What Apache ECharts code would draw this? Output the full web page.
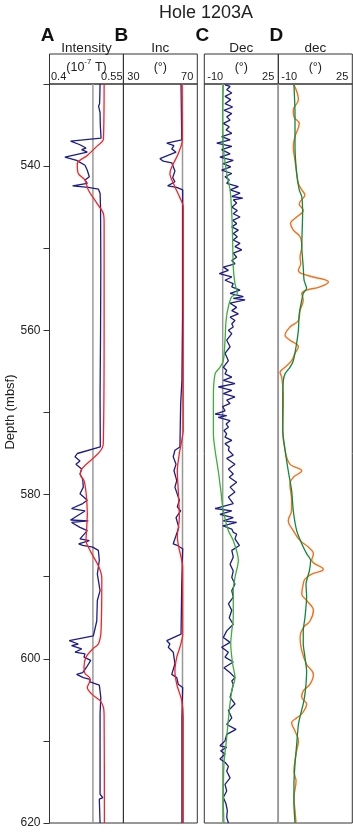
<!DOCTYPE html>
<html>
<head>
<meta charset="utf-8">
<script src="https://cdn.jsdelivr.net/npm/echarts@6/dist/echarts.min.js"></script>
<style>
html,body{margin:0;padding:0;background:#fff;}
#chart{width:353px;height:834px;}
</style>
</head>
<body>
<div id="chart"></div>
<script>
// depth range (mbsf)
const depthMin = 530, depthMax = 620;
const depthLabels = [540, 560, 580, 600, 620];

// x scales of the four panels
const panelNames = ['A', 'B', 'C', 'D'];
const xMin = [0.4, 30, -10, -10];
const xMax = [0.55, 70, 25, 25];
const xStep = [0.05, 10, 5, 5];
const xTickLabels = [['0.4', '0.55'], ['30', '70'], ['-10', '25'], ['-10', '25']];
const refValues = [0.488, 62, -1.3, -10];

// [depth, value]
const intRaw = [[530,0.5025],[531.5,0.502],[532.4,0.5015],[532.7,0.4995],[533.1,0.501],[533.5,0.5025],[535,0.503],[536.6,0.5045],
  [536.95,0.4428],[537.4,0.4618],[537.8,0.474],[538.0,0.4652],[538.3,0.4766],[538.9,0.4312],[539.3,0.455],[539.9,0.472],
  [540.5,0.4766],[541.3,0.4807],[541.7,0.472],[542.1,0.4766],[542.4,0.4469],[542.6,0.4787],[542.8,0.499],[543.3,0.5025],
  [545,0.5035],[552,0.504],[560,0.5035],[568,0.5025],[574.2,0.503],[574.4,0.5025],[575.0,0.4563],[575.4,0.4516],[575.9,0.4618],
  [576.3,0.4536],[576.9,0.4652],[577.5,0.4618],[578.1,0.4673],[578.3,0.4652],[579.1,0.4685],[579.9,0.4618],[580.7,0.4766],
  [581.1,0.4673],[581.7,0.4448],[582.0,0.472],[583.1,0.4428],[583.2,0.4787],[583.4,0.4448],[584.0,0.4618],[584.4,0.4766],
  [585.4,0.4618],[585.6,0.4807],[586.0,0.4591],[586.2,0.4673],[586.4,0.4876],[586.8,0.499],[588.0,0.501],[589.7,0.497],
  [591.7,0.5025],[592.9,0.497],[595.4,0.4958],[597.2,0.4889],[597.8,0.44],[598.2,0.4583],[598.4,0.4448],[598.8,0.4652],
  [599.2,0.4516],[599.4,0.472],[599.8,0.4699],[600.2,0.4836],[601.0,0.4754],[601.7,0.4673],[601.9,0.455],[602.3,0.4685],
  [602.5,0.4821],[602.8,0.4821],[603.2,0.501],[604.7,0.504],[606.7,0.5025],[616.5,0.5025],[616.9,0.508],[617.1,0.501],[620,0.5025]];
const intSmooth = [[530,0.5107],[536.7,0.5093],[537.6,0.4958],[538.7,0.4766],[539.7,0.4563],[540.9,0.4583],[541.7,0.472],
  [542.9,0.4787],[544.5,0.4958],[545.8,0.5093],[547,0.5107],[560,0.5107],[573.8,0.509],[576.9,0.4652],[577.6,0.4625],
  [578.3,0.47],[580,0.4745],[582.3,0.4766],[584,0.4755],[585.6,0.474],[586.8,0.4821],[588.8,0.5],[590.2,0.506],[596.6,0.5045],
  [598.2,0.499],[598.8,0.4876],[599.8,0.474],[601.0,0.4699],[601.8,0.472],[602.4,0.4821],[602.9,0.4807],[603.5,0.4766],
  [604.3,0.4855],[605.1,0.5025],[605.9,0.5093],[607,0.5107],[620,0.5113]];

const incRaw = [[530,61.2],[536.8,61.6],[537.2,53.5],[537.5,57.4],[537.9,56.2],[538.3,58.5],[539.1,49.8],[539.4,51.6],
  [539.6,56.2],[540.6,57.9],[541.4,56.7],[541.9,57.9],[542.4,54.0],[542.6,58.9],[542.9,62.1],[545.8,62.1],[557.9,62.1],
  [566.1,61.7],[568.9,61],[574.2,60.6],[574.6,57.9],[575.4,57.0],[576.3,58.5],[577.1,57.4],[578.3,58.9],[579.1,57.9],
  [580.7,60.3],[581.5,59.2],[582.0,61.0],[582.8,58.5],[584.0,60.0],[586.0,57.0],[586.2,59.2],[586.6,62.1],[590.9,61.6],
  [597.0,61.2],[597.8,53.5],[598.2,55.2],[598.6,54.3],[599.2,57.0],[600.6,57.9],[601.9,56.2],[602.3,58.9],[603.1,59.7],
  [603.5,62.1],[607.1,61.7],[620,61.7]];
const incSmooth = [[530,61.7],[536.8,61.9],[538.5,59.7],[540.1,56.2],[540.9,55.2],[542.5,57.9],[543.7,60.3],[545.0,62.4],
  [572.2,62.4],[573.4,61.6],[575.0,60.3],[577.1,59.2],[579.5,59.7],[582.8,60.3],[585.2,59.2],[586.4,60.0],[588.9,62.1],
  [597,62.1],[598.6,60.6],[599.8,58.9],[601.5,57.9],[603.1,58.9],[605.1,61.6],[607.1,62.4],[620,62.4]];

const decRaw = [[530.1,-0.2],[530.3,2.2],[530.7,0.6],[531.1,3.0],[531.5,-0.2],[531.9,2.5],[532.4,-0.2],[532.8,3.4],[533.2,-0.7],
  [533.6,3.0],[534.0,0.6],[534.4,2.2],[534.8,-1.0],[535.2,1.8],[535.6,0.3],[536.0,3.0],[536.4,-1.8],[536.8,2.2],[537.2,-4.1],
  [537.6,3.0],[538.0,-1.8],[538.5,2.2],[538.9,-2.6],[539.3,3.7],[539.7,-1.0],[540.1,2.5],[540.5,-1.8],[540.9,3.0],[541.3,-0.2],
  [541.7,1.8],[542.1,0.6],[542.5,6.1],[542.9,2.2],[543.3,6.9],[543.7,3.0],[543.9,8.2],[544.1,3.7],[544.5,5.3],[545.0,3.0],
  [545.4,5.6],[545.8,3.7],[546.2,6.9],[546.6,3.4],[547.0,5.3],[547.4,3.0],[547.8,6.1],[548.2,3.7],[548.6,5.6],[549.0,3.7],
  [549.4,6.9],[549.8,4.5],[550.2,7.7],[550.6,3.7],[551.1,5.3],[551.5,3.0],[551.9,4.5],[552.3,-1.0],[552.7,1.4],[553.1,-2.9],
  [553.5,3.0],[553.9,-0.2],[554.3,3.7],[554.7,3.0],[555.1,6.9],[555.5,2.2],[555.9,8.5],[556.1,3.7],[556.3,9.3],[556.7,2.2],
  [557.2,5.3],[557.6,3.0],[558.0,6.1],[558.4,2.2],[558.8,4.5],[559.2,3.0],[559.6,3.7],[560.0,1.4],[560.4,3.0],[561.2,0.6],
  [562.0,2.2],[562.8,-0.2],[563.7,1.4],[564.5,-1.0],[564.9,0.6],[565.3,-0.2],[565.7,3.0],[566.1,-1.0],[566.5,4.5],[566.9,-3.4],
  [567.3,3.0],[567.7,-1.0],[568.1,4.5],[568.5,0.6],[568.9,2.2],[569.3,-1.3],[569.8,-0.2],[570.2,-4.9],[570.4,0.6],[570.6,-3.4],
  [571.0,2.2],[571.4,0.3],[571.8,1.4],[572.2,-0.7],[572.6,0.6],[573.0,-0.2],[573.4,3.0],[573.8,-0.2],[574.2,1.8],[574.6,1.4],
  [575.2,3.7],[575.6,0.6],[576.3,4.5],[576.9,1.4],[577.5,3.7],[577.9,1.8],[578.5,5.3],[579.1,2.2],[579.7,4.5],[580.3,1.4],
  [581.1,3.7],[581.7,-4.9],[582.0,3.0],[582.4,-2.6],[582.8,3.7],[583.2,-1.0],[583.4,5.3],[583.8,-1.3],[584.2,3.0],[584.6,3.7],
  [584.8,5.3],[585.4,4.5],[586.2,6.6],[586.8,3.0],[587.6,3.7],[588.5,2.2],[589.3,3.7],[590.1,3.0],[590.9,4.5],[591.7,3.0],
  [592.5,3.7],[593.3,1.4],[594.1,3.0],[595.0,1.8],[595.8,3.7],[596.6,0.6],[597.4,-1.0],[598.0,2.2],[598.6,-1.8],[599.2,1.4],
  [599.8,-0.2],[600.4,3.7],[601.1,-0.7],[601.7,2.2],[602.3,4.5],[602.7,3.0],[603.1,3.7],[603.9,3.0],[604.7,2.2],[605.5,4.5],
  [606.3,1.4],[607.2,3.0],[608.0,0.6],[608.6,5.0],[609.2,0.6],[610.0,-0.2],[610.6,-2.6],[610.8,0.6],[611.2,-2.3],[611.6,-0.2],
  [612.2,-2.6],[612.6,-0.2],[613.1,1.4],[613.7,0.6],[614.5,2.2],[615.3,-0.2],[616.1,0.6],[616.9,-1.0],[617.7,0.3],[618.5,0.9],
  [619.3,0.6],[620.0,1.4]];
const decSmoothC = [[530.1,-1.0],[533.6,-1.3],[537.6,-1.0],[540.9,0.6],[542.9,2.2],[545.8,3.0],[549.0,3.4],[552.3,3.7],
  [554.3,4.5],[555.5,5.6],[555.9,3.0],[557.1,1.4],[558.8,0.3],[561.2,-0.2],[563.7,-1.0],[564.5,-2.6],[565.3,-4.9],[568.1,-5.7],
  [572.6,-5.7],[574.6,-4.9],[577.1,-3.4],[579.5,-2.2],[582.0,-1.0],[584.4,1.4],[585.6,3.7],[588.0,6.1],[590.1,4.5],[591.7,3.7],
  [595.0,3.7],[596.6,3.0],[598.2,2.5],[600.6,3.4],[602.3,4.5],[603.9,3.0],[606.3,1.8],[609.6,0.6],[612.8,-0.7],[617.3,-1.0],[620,-0.7]];

const decD = [[530.1,-2.6],[531.9,-0.5],[533.2,-2.9],[534.0,-2.6],[534.8,-0.1],[536.4,-2.1],[537.6,-2.9],[539.3,-2.1],
  [540.9,-1.3],[542.1,-0.5],[542.9,1.1],[543.5,2.6],[544.6,-0.1],[545.4,1.8],[546.2,-1.3],[547.0,-4.2],[547.8,-2.9],[548.6,0.3],
  [549.8,1.1],[551.1,0.3],[551.9,0.6],[552.7,-0.5],[553.1,1.1],[553.5,6.6],[554.1,13.7],[554.7,9.7],[555.1,3.4],[555.5,1.1],
  [556.3,1.8],[557.6,0.3],[558.8,-0.5],[559.6,-4.5],[560.6,-6.8],[561.2,-4.5],[562.0,-0.5],[562.8,-2.1],[563.7,-3.7],[564.5,-6.8],
  [565.1,-9.2],[565.7,-8.4],[568.1,-7.6],[572.2,-7.9],[574.6,-6.8],[576.3,-4.5],[577.1,1.1],[577.9,-2.9],[578.7,-4.5],
  [580.7,-3.7],[581.9,-3.7],[583.2,-5.3],[584.4,-2.9],[585.6,0.3],[586.4,4.2],[587.2,6.6],[588.0,5.8],[589.1,11.3],[589.7,5.8],
  [590.3,2.6],[590.9,1.8],[592.1,1.1],[592.9,3.4],[594.1,6.6],[595.4,5.0],[596.2,1.8],[597.4,0.3],[599.0,1.1],[600.7,3.4],
  [601.9,6.6],[603.1,5.0],[603.9,1.8],[604.7,1.1],[605.5,3.4],[606.7,1.1],[607.2,-1.3],[607.8,-3.7],[608.8,-2.1],[610.0,-0.5],
  [611.2,-1.3],[612.4,-2.1],[613.7,-2.6],[614.9,-1.6],[616.9,-2.6],[618.5,-2.1],[620.0,-1.6]];
const decSmoothD = [[530.1,-2.6],[533.6,-2.1],[537.6,-2.1],[540.9,-1.3],[542.9,-0.1],[543.7,1.1],[545.8,1.5],[549.8,1.1],
  [552.3,1.8],[553.9,2.2],[554.9,3.4],[555.5,1.8],[556.3,1.1],[558.0,-0.1],[560.0,-0.5],[562.0,-1.6],[563.7,-2.9],[564.5,-4.5],
  [565.3,-6.8],[566.1,-7.6],[568.1,-7.9],[572.2,-7.9],[574.6,-6.8],[577.1,-5.3],[579.5,-3.7],[582.0,-2.9],[584.4,-1.3],
  [586.0,1.1],[587.2,3.4],[588.0,5.3],[589.3,4.7],[590.9,3.1],[592.5,3.4],[595.0,2.6],[596.6,1.8],[598.2,1.8],[599.8,2.6],
  [601.5,3.4],[603.1,3.1],[604.3,2.6],[605.5,1.8],[606.7,0.6],[608.0,-0.5],[610.4,-1.3],[612.8,-2.1],[615.3,-2.6],[617.7,-2.6],[620.0,-2.1]];

const font = 'Liberation Sans';
const panelLeft = [49.5, 123.3, 204.3, 278.3];
const panelW = 74, plotTop = 84, plotH = 739, headTop = 54;
// inner padding of the min / max tick labels in each header
const labelPad = [[0, 1, 0, 1.5], [0, 4, 0, 4], [0, 4, 0, 3], [0, 4, 0, 3]];

const nameLines = [
  '{t|Intensity}\n{u|(10}{s|-7}{u| T)}',
  '{t|Inc}\n{u|(°)}',
  '{t|Dec}\n{u|(°)}',
  '{t|dec}\n{u|(°)}'
];

let myChart = echarts.init(document.getElementById('chart'));

const grids = [], xAxes = [], yAxes = [], series = [];
for (let i = 0; i < 4; i++) {
  grids.push({left: panelLeft[i], top: plotTop, width: panelW, height: plotH,
    show: true, borderColor: '#333', borderWidth: 1});
  xAxes.push({
    gridIndex: i, type: 'value', position: 'top',
    min: xMin[i], max: xMax[i], interval: xStep[i],
    axisLine: {show: false}, axisTick: {show: false}, splitLine: {show: false},
    axisLabel: {
      interval: 0, fontSize: 11, margin: 2, color: '#222', fontFamily: font,
      padding: labelPad[i],
      alignMinLabel: 'left', alignMaxLabel: 'right',
      formatter: function (v) {
        if (Math.abs(v - xMin[i]) < 1e-9) return xTickLabels[i][0];
        if (Math.abs(v - xMax[i]) < 1e-9) return xTickLabels[i][1];
        return '';
      }
    },
    name: nameLines[i], nameLocation: 'middle', nameGap: 6, nameMoveOverlap: false,
    nameTextStyle: {
      color: '#222', fontFamily: font,
      rich: {
        t: {fontSize: 13.5, lineHeight: 20, fontFamily: font, color: '#222'},
        u: {fontSize: 12.5, lineHeight: 20, fontFamily: font, color: '#222'},
        s: {fontSize: 8, lineHeight: 14, verticalAlign: 'top', fontFamily: font, color: '#222'}
      }
    }
  });
  yAxes.push({
    gridIndex: i, type: 'value', inverse: true, min: depthMin, max: depthMax, interval: 10,
    show: i === 0,
    axisLine: {show: true, lineStyle: {color: '#333'}},
    axisTick: {show: true, length: 6, lineStyle: {color: '#333'}},
    splitLine: {show: false},
    axisLabel: {
      fontSize: 12, margin: 9, color: '#222', fontFamily: font,
      formatter: v => depthLabels.indexOf(v) >= 0 ? String(v) : ''
    }
  });
  // grey reference line
  series.push({type: 'line', xAxisIndex: i, yAxisIndex: i, silent: true, showSymbol: false,
    data: [[refValues[i], depthMin], [refValues[i], depthMax]],
    lineStyle: {color: '#999', width: 1.5}});
}

function addLine(idx, pts, color, smooth, width) {
  series.push({
    type: 'line', xAxisIndex: idx, yAxisIndex: idx, showSymbol: false, silent: true,
    smooth: smooth, data: pts.map(p => [p[1], p[0]]),
    lineStyle: {color: color, width: width || 1.3}
  });
}
addLine(0, intRaw, '#1c1c8a', false);
addLine(0, intSmooth, '#ff1f1f', 0.3);
addLine(1, incRaw, '#1c1c8a', false);
addLine(1, incSmooth, '#ff1f1f', 0.3);
addLine(2, decRaw, '#1c1c8a', false);
addLine(2, decSmoothC, '#3cb034', 0.3);
addLine(3, decD, '#ff6a14', 0.4, 1.4);
addLine(3, decSmoothD, '#0b8a3c', 0.2);

const graphics = [];
for (let i = 0; i < 4; i++) {
  graphics.push({type: 'rect', shape: {x: panelLeft[i], y: headTop, width: panelW, height: plotTop - headTop},
    style: {fill: 'none', stroke: '#333', lineWidth: 1}, silent: true});
  graphics.push({type: 'text', x: panelLeft[i] - 2, y: 35.5,
    style: {text: panelNames[i], font: 'bold 19px "Liberation Sans"', fill: '#111',
      textAlign: 'center', textVerticalAlign: 'middle'}});
}
graphics.push({type: 'text', x: 10, y: 412, rotation: Math.PI / 2,
  style: {text: 'Depth (mbsf)', font: '13px "Liberation Sans"', fill: '#222',
    textAlign: 'center', textVerticalAlign: 'middle'}});

myChart.setOption({
  animation: false,
  title: {text: 'Hole 1203A', left: 201, top: -1, textAlign: 'center',
    textStyle: {fontSize: 18, fontWeight: 'normal', fontFamily: font, color: '#222'}},
  grid: grids,
  xAxis: xAxes,
  yAxis: yAxes,
  series: series,
  graphic: graphics
});
</script>
</body>
</html>
